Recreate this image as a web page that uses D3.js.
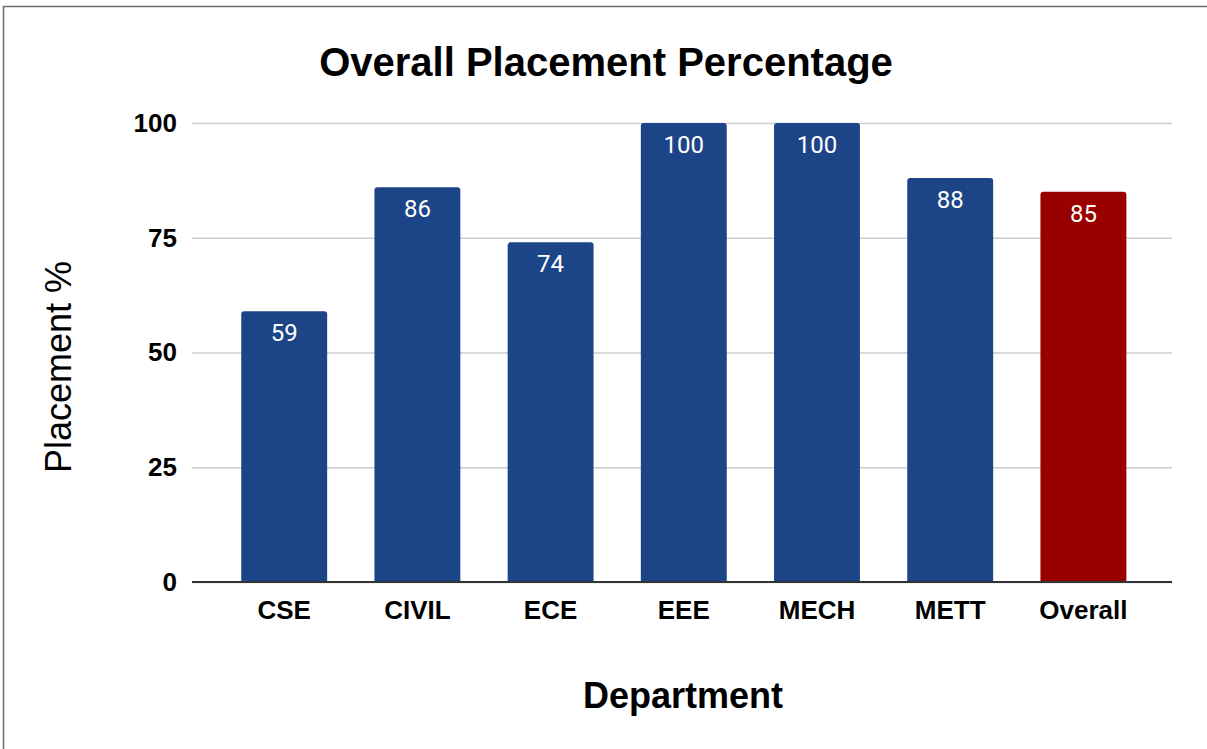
<!DOCTYPE html>
<html>
<head>
    <meta charset="UTF-8">
    <title>Overall Placement Percentage</title>
    <script src="https://cdn.jsdelivr.net/npm/d3@7/dist/d3.min.js"></script>
    <style>
        body { margin: 0; background: #fff; }
        svg { display: block; font-family: "Liberation Sans", Arial, sans-serif; }
    </style>
</head>
<body>
<div id="chart"></div>
<script>
    var departments = ["CSE", "CIVIL", "ECE", "EEE", "MECH", "METT", "Overall"];
    var placement = [59, 86, 74, 100, 100, 88, 85];
    var yTicks = [0, 25, 50, 75, 100];

    var width = 1207, height = 749;

    var svg = d3.select("#chart").append("svg")
            .attr("width", width)
            .attr("height", height);

    // frame (only top and left edges are visible in the picture)
    svg.append("path")
            .attr("d", "M3.5,749 V6.5 H1207")
            .attr("fill", "none")
            .attr("stroke", "#6b6b6b")
            .attr("stroke-width", 1.5);

    var x = d3.scaleBand()
            .domain(departments)
            .range([217.6, 1150])
            .paddingInner(0.355)
            .paddingOuter(0.1775);

    var y = d3.scaleLinear()
            .domain([0, 100])
            .range([582, 123]);

    var gridLeft = 192, gridRight = 1172;

    // gridlines + tick labels
    var yAxis = d3.axisLeft(y)
            .tickValues(yTicks)
            .tickSize(-(gridRight - gridLeft))
            .tickPadding(15);

    var gy = svg.append("g")
            .attr("transform", "translate(" + gridLeft + ",0)")
            .call(yAxis);
    gy.select(".domain").remove();
    gy.selectAll(".tick line")
            .attr("stroke", "#cccccc")
            .attr("stroke-width", 1.5);
    gy.selectAll(".tick text")
            .attr("font-size", 26)
            .attr("font-weight", "bold")
            .attr("fill", "#000")
            .attr("font-family", "'Liberation Sans', Arial, sans-serif");

    // bars with slightly rounded tops
    var r = 3;
    svg.append("g").selectAll("path")
            .data(departments)
            .enter().append("path")
            .attr("fill", function(d){ return d === "Overall" ? "#990000" : "#1c4587"; })
            .attr("d", function(d, i){
                var x0 = x(d), w = x.bandwidth(), y0 = y(placement[i]), y1 = y(0);
                return "M" + x0 + "," + y1 +
                        "V" + (y0 + r) +
                        "Q" + x0 + "," + y0 + " " + (x0 + r) + "," + y0 +
                        "H" + (x0 + w - r) +
                        "Q" + (x0 + w) + "," + y0 + " " + (x0 + w) + "," + (y0 + r) +
                        "V" + y1 + "Z";
            });

    // value labels
    svg.append("g").selectAll("text")
            .data(departments)
            .enter().append("text")
            .attr("x", function(d){ return x(d) + x.bandwidth() / 2; })
            .attr("y", function(d, i){ return y(placement[i]) + 30; })
            .attr("text-anchor", "middle")
            .attr("fill", "#fff")
            .attr("font-family", "Roboto, sans-serif")
            .attr("font-size", 24)
            .text(function(d, i){ return placement[i]; });

    // baseline
    svg.append("line")
            .attr("x1", gridLeft).attr("x2", gridRight)
            .attr("y1", y(0)).attr("y2", y(0))
            .attr("stroke", "#333")
            .attr("stroke-width", 2);

    // category labels
    svg.append("g").selectAll("text")
            .data(departments)
            .enter().append("text")
            .attr("x", function(d){ return x(d) + x.bandwidth() / 2; })
            .attr("y", 619)
            .attr("text-anchor", "middle")
            .attr("font-size", 26)
            .attr("font-weight", "bold")
            .text(function(d){ return d; });

    // titles
    svg.append("text")
            .attr("x", 606).attr("y", 76)
            .attr("text-anchor", "middle")
            .attr("font-size", 40)
            .attr("font-weight", "bold")
            .text("Overall Placement Percentage");

    svg.append("text")
            .attr("x", 683).attr("y", 708)
            .attr("text-anchor", "middle")
            .attr("font-size", 36)
            .attr("font-weight", "bold")
            .text("Department");

    svg.append("text")
            .attr("transform", "translate(71,367) rotate(-90)")
            .attr("text-anchor", "middle")
            .attr("font-size", 36)
            .text("Placement %");
</script>
</body>
</html>
